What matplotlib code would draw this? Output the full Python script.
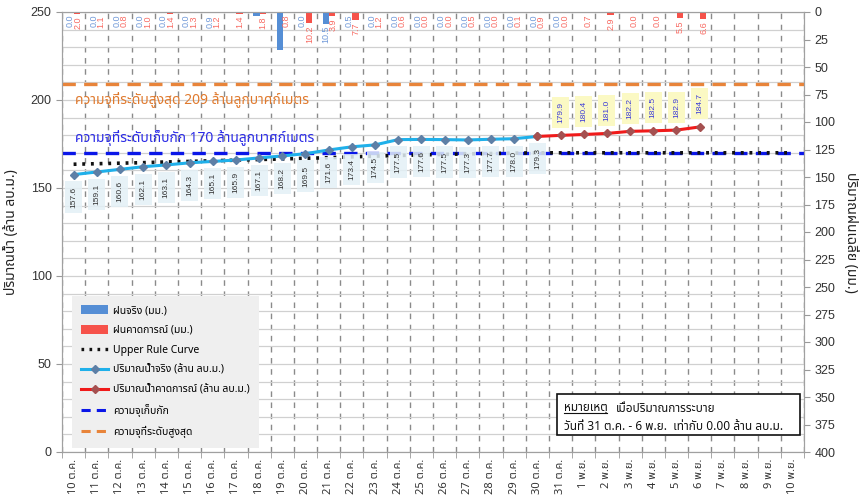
import matplotlib
matplotlib.use('Agg')
import matplotlib.pyplot as plt
import numpy as np
from matplotlib import font_manager
from matplotlib.ft2font import FT2Font
from matplotlib.lines import Line2D
from matplotlib.patches import Patch, Rectangle

# ---------------- data ----------------
dates = ['10 ต.ค.', '11 ต.ค.', '12 ต.ค.', '13 ต.ค.', '14 ต.ค.', '15 ต.ค.', '16 ต.ค.',
         '17 ต.ค.', '18 ต.ค.', '19 ต.ค.', '20 ต.ค.', '21 ต.ค.', '22 ต.ค.', '23 ต.ค.',
         '24 ต.ค.', '25 ต.ค.', '26 ต.ค.', '27 ต.ค.', '28 ต.ค.', '29 ต.ค.', '30 ต.ค.',
         '31 ต.ค.', '1 พ.ย.', '2 พ.ย.', '3 พ.ย.', '4 พ.ย.', '5 พ.ย.', '6 พ.ย.',
         '7 พ.ย.', '8 พ.ย.', '9 พ.ย.', '10 พ.ย.']

actual_volume = [157.6, 159.1, 160.6, 162.1, 163.1, 164.3, 165.1, 165.9, 167.1, 168.2,
                 169.5, 171.6, 173.4, 174.5, 177.5, 177.6, 177.5, 177.3, 177.7, 178.0, 179.3]
forecast_start = 20
forecast_volume = [179.3, 179.9, 180.4, 181.0, 182.2, 182.5, 182.9, 184.7]

upper_rule_curve = [163.5, 163.8, 164.1, 164.4, 164.8, 165.1, 165.5, 165.8, 166.2, 166.5,
                    166.9, 167.2, 167.7, 168.1, 168.5, 168.8, 169.1, 169.4, 169.6, 169.8,
                    170.0, 170.0, 170.0, 170.0, 170.0, 170.0, 170.0, 170.0, 170.0, 170.0,
                    170.0, 170.0]

storage_capacity = 170
max_capacity = 209

nan = np.nan
rain_actual = [0.0, 0.0, 0.0, 0.0, 0.0, 0.0, 0.9, nan, 3.6, 34.5, 0.0, 10.5, 0.5, 0.0,
               0.0, 0.0, 0.0, 0.0, 0.0, 0.0, 0.0, 0.0, nan, nan, nan, nan, nan, nan,
               nan, nan, nan, nan]
rain_actual_labels = ['0.0', '0.0', '0.0', '0.0', '0.0', '0.0', '0.9', '', '', '', '0.0',
                      '10.5', '0.5', '0.0', '0.0', '0.0', '0.0', '0.0', '0.0', '0.0', '0.0',
                      '0.0', '', '', '', '', '', '', '', '', '', '']
rain_forecast = [2.0, 1.1, 0.8, 1.0, 1.4, 1.3, 1.2, 1.4, 1.8, 0.8, 10.2, 3.9, 7.7, 1.2,
                 0.6, 0.0, 0.0, 0.5, 0.0, 0.1, 0.9, 0.0, 0.7, 2.9, 0.0, 0.0, 5.5, 6.6,
                 nan, nan, nan, nan]

# ---------------- fonts ----------------
def find_thai_fonts():
    found = []
    for f in font_manager.fontManager.ttflist:
        if f.name in found:
            continue
        try:
            ft = FT2Font(f.fname)
            if ft.get_char_index(0x0E01) and ft.get_char_index(0x0E49) and ft.get_char_index(0x0E33):
                found.append(f.name)
        except Exception:
            pass
    return found

thai = find_thai_fonts()
pref_order = ['Tahoma', 'Leelawadee UI', 'Noto Sans Thai', 'Noto Sans Thai UI', 'Sarabun',
              'Loma', 'Garuda', 'Norasi', 'Kinnari', 'Waree', 'Umpush', 'Laksaman']
thai_sorted = sorted(thai, key=lambda n: pref_order.index(n) if n in pref_order else 99)
families = thai_sorted[:1] + ['DejaVu Sans']
plt.rcParams['font.family'] = families
num_family = ['Liberation Sans', 'DejaVu Sans']

# ---------------- figure ----------------
fig = plt.figure(figsize=(8.64, 4.96), dpi=100)
ax = fig.add_axes([62 / 864, 1 - 452 / 496, (804 - 62) / 864, 440 / 496])
ax2 = ax.twinx()

n = len(dates)
x = np.arange(n)

# grid
ax.set_xlim(-0.5, n - 0.5)
ax.set_ylim(0, 250)
ax.set_yticks(np.arange(0, 251, 50))
ax.set_yticks(np.arange(0, 251, 10), minor=True)
ax.yaxis.grid(True, which='both', color='#d0d0d0', lw=0.9)
ax.set_xticks(x)
ax.set_xticks(np.arange(-0.5, n, 1.0), minor=True)
ax.xaxis.grid(True, which='minor', color='#8a8a8a', lw=1.0, linestyle=(0, (4, 4)))
ax.set_axisbelow(True)
ax.set_xticklabels(dates, rotation=90, fontsize=8, color='#333333')
ax.tick_params(axis='x', which='major', length=0, pad=5)
ax.tick_params(axis='x', which='minor', length=4, color='#999999')
ax.tick_params(axis='y', which='minor', length=0)
ax.tick_params(axis='y', which='major', length=4, color='#999999', labelsize=9,
               labelcolor='#333333')
for lab in ax.get_yticklabels():
    lab.set_family(num_family)

for sp in ax.spines.values():
    sp.set_color('#a0a0a0')
for sp in ax2.spines.values():
    sp.set_color('#a0a0a0')

ax.set_ylabel('ปริมาณน้ำ (ล้าน ลบ.ม.)', fontsize=10, fontweight='bold', color='#222222',
              labelpad=8)

# reference lines
ax.axhline(max_capacity, color='#e8843a', lw=2.4, linestyle=(0, (4, 2.5)), zorder=3)
ax.axhline(storage_capacity, color='#0a16e8', lw=2.4, linestyle=(0, (4, 2.5)), zorder=3)
ax.plot(x, upper_rule_curve, color='#111111', lw=2.6, linestyle=(0, (0.8, 1.6)), zorder=3)

ax.text(0.0175, 200, f'ความจุที่ระดับสูงสุด {max_capacity} ล้านลูกบาศก์เมตร', color='#e07a2e',
        fontsize=10, va='center', ha='left', transform=ax.get_yaxis_transform(), zorder=4)
ax.text(0.0175, 178.5, f'ความจุที่ระดับเก็บกัก {storage_capacity} ล้านลูกบาศก์เมตร', color='#2a2ae6',
        fontsize=10, va='center', ha='left', transform=ax.get_yaxis_transform(), zorder=4)

# volume lines
xa = x[:len(actual_volume)]
ax.plot(xa, actual_volume, color='#1fb0ea', lw=2.2, marker='D', markersize=3.6,
        markerfacecolor='#5d7fa6', markeredgecolor='#5d7fa6', zorder=5)
xf = np.arange(forecast_start, forecast_start + len(forecast_volume))
ax.plot(xf, forecast_volume, color='#f01a1a', lw=2.2, marker='D', markersize=3.6,
        markerfacecolor='#a55050', markeredgecolor='#a55050', zorder=6)

for xi, v in zip(xa, actual_volume):
    ax.annotate(f'{v:.1f}', (xi, v), xytext=(0, -8.5), textcoords='offset points',
                rotation=90, ha='center', va='top', fontsize=6, color='#333333',
                family=num_family, zorder=4,
                bbox=dict(boxstyle='square,pad=0.6', fc='#e3f0f6', ec='none', alpha=0.85))
for xi, v in zip(xf[1:], forecast_volume[1:]):
    ax.annotate(f'{v:.1f}', (xi, v), xytext=(0, 9), textcoords='offset points',
                rotation=90, ha='center', va='bottom', fontsize=6, color='#3a3ad8',
                family=num_family, zorder=4,
                bbox=dict(boxstyle='square,pad=0.6', fc='#fbf9c4', ec='none'))

# rain bars on the right axis
ax2.set_ylim(400, 0)
ax2.set_yticks(np.arange(0, 401, 25))
ax2.tick_params(axis='y', length=4, color='#999999', labelsize=9, labelcolor='#333333')
for lab in ax2.get_yticklabels():
    lab.set_family(num_family)
ax2.set_ylabel('ปริมาณฝนเฉลี่ย (มม.)', fontsize=10, fontweight='bold', color='#222222',
               rotation=270, labelpad=16)

bw = 0.27
ra = np.array(rain_actual, dtype=float)
rf = np.array(rain_forecast, dtype=float)
ax2.bar(x - 0.11, np.nan_to_num(ra), width=bw, color='#558ed5', zorder=2)
ax2.bar(x + 0.16, np.nan_to_num(rf), width=bw, color='#f6524a', zorder=2)
for xi, v, lab in zip(x, ra, rain_actual_labels):
    if lab:
        ax2.annotate(lab, (xi - 0.13, v), xytext=(0, -1.5), textcoords='offset points',
                     rotation=90, ha='center', va='top', fontsize=6.5, color='#6f98d8',
                     family=num_family)
for xi, v in zip(x, rf):
    if not np.isnan(v):
        ax2.annotate(f'{v:.1f}', (xi + 0.18, v), xytext=(0, -1.5), textcoords='offset points',
                     rotation=90, ha='center', va='top', fontsize=6.5, color='#f86a62',
                     family=num_family)

# legend
handles = [
    Patch(facecolor='#558ed5', edgecolor='none', label='ฝนจริง (มม.)'),
    Patch(facecolor='#f6524a', edgecolor='none', label='ฝนคาดการณ์ (มม.)'),
    Line2D([], [], color='#111111', lw=2.4, linestyle=(0, (0.8, 1.6)), label='Upper Rule Curve'),
    Line2D([], [], color='#1fb0ea', lw=2.2, marker='D', markersize=3.6,
           markerfacecolor='#5d7fa6', markeredgecolor='#5d7fa6', label='ปริมาณน้ำจริง (ล้าน ลบ.ม.)'),
    Line2D([], [], color='#f01a1a', lw=2.2, marker='D', markersize=3.6,
           markerfacecolor='#a55050', markeredgecolor='#a55050', label='ปริมาณน้ำคาดการณ์ (ล้าน ลบ.ม.)'),
    Line2D([], [], color='#0a16e8', lw=2.2, linestyle=(0, (3, 2)), label='ความจุเก็บกัก'),
    Line2D([], [], color='#e8843a', lw=2.2, linestyle=(0, (3, 2)), label='ความจุที่ระดับสูงสุด'),
]
leg = ax2.legend(handles=handles, loc='lower left', bbox_to_anchor=(0.0135, 0.01),
                 fontsize=7.5, frameon=True, facecolor='#efefef', edgecolor='none',
                 framealpha=1.0, fancybox=False, handlelength=2.6, handleheight=0.9,
                 handletextpad=0.4, labelspacing=0.85, borderpad=0.9, borderaxespad=0)
leg.set_zorder(10)

# note box
ax2.add_patch(Rectangle((0.667, 0.038), 0.327, 0.094, transform=ax2.transAxes,
                        facecolor='white', edgecolor='#111111', lw=1.2, zorder=11))
t1 = ax2.text(0.676, 0.100, 'หมายเหตุ', transform=ax2.transAxes, fontsize=8.5,
              color='#111111', va='center', ha='left', zorder=12)
ax2.text(0.676, 0.058, 'วันที่ 31 ต.ค. - 6 พ.ย.  เท่ากับ 0.00 ล้าน ลบ.ม.', transform=ax2.transAxes,
         fontsize=8.5, color='#111111', va='center', ha='left', zorder=12)
fig.canvas.draw()
r = fig.canvas.get_renderer()
bb = t1.get_window_extent(r)
inv = ax2.transAxes.inverted()
(x0, y0), (x1, y1) = inv.transform([[bb.x0, bb.y0], [bb.x1, bb.y1]])
ax2.plot([x0, x1], [y0 + 0.004, y0 + 0.004], transform=ax2.transAxes, color='#111111',
         lw=0.8, zorder=12)
ax2.text(x1 + 0.012, 0.100, 'เมื่อปริมาณการระบาย', transform=ax2.transAxes, fontsize=8.5,
         color='#111111', va='center', ha='left', zorder=12)

ax.set_xlim(-0.5, n - 0.5)
fig.savefig('out.png', dpi=100)
